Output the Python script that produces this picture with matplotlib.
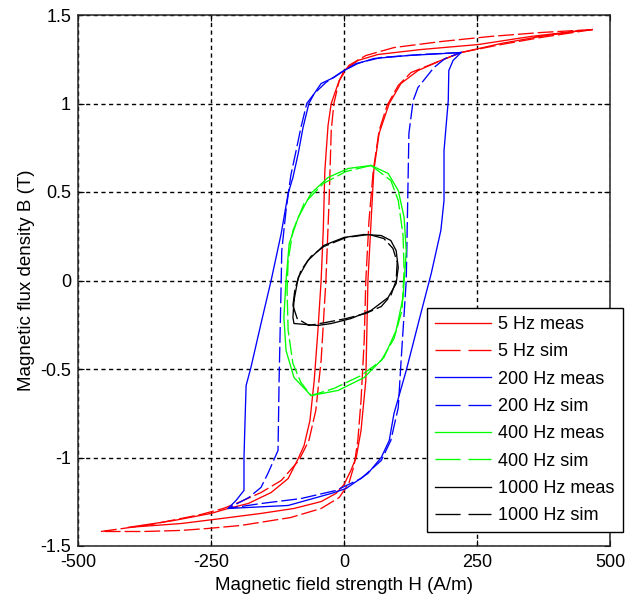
import matplotlib
matplotlib.use("Agg")
import matplotlib.pyplot as plt

plt.rcParams['font.family'] = ['Liberation Sans', 'DejaVu Sans']

# ---------------- data (H in A/m, B in T) ----------------
h5_meas = [446, 352, 252, 145, 64, 26, 0, -11, -24, -30, -36, -39, -43, -49, -56, -64, -75, -86,
           -105, -137, -180, -218, -250, -320, -406,
           -306, -231, -156, -94, -43, -15, 0, 13, 23, 32, 41, 43, 45, 51, 56, 66, 85, 107, 139,
           182, 220, 295, 370, 446]
b5_meas = [1.412, 1.379, 1.333, 1.305, 1.277, 1.243, 1.186, 1.113, 1.0, 0.876, 0.621, 0.282, 0.0,
           -0.282, -0.565, -0.791, -0.932, -1.006, -1.119, -1.198, -1.260, -1.288, -1.316, -1.356,
           -1.395,
           -1.373, -1.345, -1.316, -1.288, -1.249, -1.203, -1.153, -1.073, -1.0, -0.847, -0.565,
           -0.282, 0.0, 0.339, 0.621, 0.831, 1.0, 1.113, 1.186, 1.243, 1.288, 1.339, 1.379, 1.412]

h5_sim = [468, 370, 276, 182, 94, 41, 9, -9, -19, -24, -28, -34, -43, -53, -66, -85, -118, -156,
          -194, -227, -269, -363, -457,
          -376, -306, -256, -194, -100, -43, -9, 9, 19, 26, 32, 38, 41, 47, 55, 66, 81, 102, 126,
          182, 220, 295, 370, 468]
b5_sim = [1.418, 1.401, 1.379, 1.350, 1.316, 1.271, 1.215, 1.130, 1.0, 0.847, 0.452, 0.0, -0.452,
          -0.734, -0.904, -1.017, -1.130, -1.198, -1.249, -1.288, -1.322, -1.379, -1.418,
          -1.418, -1.412, -1.401, -1.384, -1.339, -1.288, -1.226, -1.147, -1.045, -0.904, -0.678,
          -0.339, 0.0, 0.339, 0.621, 0.847, 0.989, 1.102, 1.175, 1.243, 1.288, 1.333, 1.373, 1.418]

h200_meas = [220, 120, 56, 26, 0, -19, -43, -56, -66, -77, -86, -96, -105, -118, -137, -156, -175,
             -184, -186, -188, -188, -203, -218,
             -105, -24, 4, 45, 70, 85, 94, 117, 141, 164, 182, 188, 188, 196, 197, 205, 220]
b200_meas = [1.288, 1.271, 1.254, 1.226, 1.186, 1.147, 1.113, 1.056, 1.0, 0.864, 0.718, 0.582,
             0.492, 0.266, 0.0, -0.243, -0.492, -0.593, -0.791, -1.0, -1.186, -1.243, -1.288,
             -1.271, -1.203, -1.175, -1.090, -1.0, -0.904, -0.751, -0.508, -0.226, 0.040, 0.282,
             0.452, 0.734, 1.017, 1.186, 1.243, 1.288]

h200_sim = [220, 145, 70, 23, -6, -34, -56, -70, -81, -90, -100, -109, -117, -118, -120, -122,
            -124, -143, -156, -179, -218,
            -156, -81, -15, 32, 70, 88, 102, 107, 117, 120, 122, 130, 139, 169, 190, 220]
b200_sim = [1.288, 1.277, 1.260, 1.226, 1.175, 1.119, 1.056, 1.0, 0.864, 0.734, 0.593, 0.395,
            0.169, 0.0, -0.282, -0.565, -0.960, -1.090, -1.169, -1.226, -1.288,
            -1.260, -1.232, -1.186, -1.119, -1.017, -0.904, -0.718, -0.469, 0.0, 0.492, 0.831,
            1.017, 1.090, 1.203, 1.254, 1.288]

h400_meas = [51, 8, -30, -62, -86, -103, -109, -113, -109, -94, -62, -11, 38, 75, 98, 111, 117,
             113, 102, 83, 51]
b400_meas = [0.650, 0.633, 0.582, 0.492, 0.356, 0.209, 0.0, -0.209, -0.395, -0.548, -0.650,
             -0.621, -0.548, -0.435, -0.282, -0.096, 0.169, 0.356, 0.508, 0.605, 0.650]

h400_sim = [51, 4, -39, -75, -96, -105, -107, -105, -96, -81, -62, -19, 32, 70, 94, 109, 113, 111,
            102, 88, 51]
b400_sim = [0.650, 0.616, 0.548, 0.435, 0.282, 0.113, -0.056, -0.282, -0.469, -0.576, -0.650,
            -0.610, -0.537, -0.452, -0.328, -0.169, 0.056, 0.254, 0.452, 0.565, 0.650]

h1000_meas = [-94, -96, -94, -49, -24, 13, 51, 83, 98, 102, 98, 88, 70, 38, 0, -38, -68, -86, -94]
b1000_meas = [-0.113, -0.209, -0.243, -0.254, -0.243, -0.215, -0.169, -0.096, -0.017, 0.073,
              0.169, 0.226, 0.254, 0.260, 0.243, 0.198, 0.113, 0.017, -0.113]

h1000_sim = [-96, -92, -81, -62, -38, 4, 47, 75, 92, 100, 98, 88, 70, 41, 4, -34, -66, -88, -96]
b1000_sim = [-0.141, -0.045, 0.056, 0.136, 0.192, 0.243, 0.260, 0.237, 0.181, 0.102, 0.0, -0.085,
             -0.147, -0.186, -0.215, -0.237, -0.254, -0.215, -0.141]

labels = ['5 Hz meas', '5 Hz sim', '200 Hz meas', '200 Hz sim',
          '400 Hz meas', '400 Hz sim', '1000 Hz meas', '1000 Hz sim']
x_ticks = [-500, -250, 0, 250, 500]
y_ticks = [-1.5, -1, -0.5, 0, 0.5, 1, 1.5]
y_ticklabels = ['-1.5', '-1', '-0.5', '0', '0.5', '1', '1.5']

# ---------------- figure ----------------
W, H = 630, 605
fig = plt.figure(figsize=(W / 100, H / 100), dpi=100)
ax = fig.add_axes([78 / W, 1 - 546 / H, 532 / W, 531 / H])

dash = (0, (12, 3))
lw = 0.95
series = [
    (h5_meas, b5_meas, '#ff0000', '-'),
    (h5_sim, b5_sim, '#ff0000', dash),
    (h200_meas, b200_meas, '#0000ff', '-'),
    (h200_sim, b200_sim, '#0000ff', dash),
    (h400_meas, b400_meas, '#00ff00', '-'),
    (h400_sim, b400_sim, '#00ff00', dash),
    (h1000_meas, b1000_meas, '#000000', '-'),
    (h1000_sim, b1000_sim, '#000000', dash),
]
for (hx, by, c, ls), lab in zip(series, labels):
    ax.plot(hx, by, color=c, linestyle=ls, linewidth=lw, label=lab)

ax.set_xlim(-500, 500)
ax.set_ylim(-1.5, 1.5)
ax.set_xticks(x_ticks)
ax.set_xticklabels([str(v) for v in x_ticks])
ax.set_yticks(y_ticks)
ax.set_yticklabels(y_ticklabels)
ax.tick_params(direction='in', length=4, width=0.8, top=True, right=True,
               labelsize=13, colors='#000000')
ax.tick_params(axis='x', pad=6)
ax.tick_params(axis='y', pad=5)
ax.grid(True, color='#000000', linestyle=(0, (3, 2.5)), linewidth=1.0)
for s in ax.spines.values():
    s.set_color('#262626')
    s.set_linewidth(1.1)

ax.set_xlabel('Magnetic field strength H (A/m)', fontsize=13.5, labelpad=4)
ax.set_ylabel('Magnetic flux density B (T)', fontsize=13.5, labelpad=4)

leg = ax.legend(loc='upper left', bbox_to_anchor=(427 / W, 1 - 308 / H),
                bbox_transform=fig.transFigure, borderaxespad=0, fontsize=13,
                handlelength=3.1, handletextpad=0.4, labelspacing=0.57,
                borderpad=0.45, fancybox=False, framealpha=1, edgecolor='#000000')
leg.get_frame().set_linewidth(1.0)
leg.set_zorder(5)
for i, ln in enumerate(leg.get_lines()):
    if i % 2 == 1:
        ln.set_linestyle((0, (19, 6)))

fig.savefig('out.png', dpi=100)
